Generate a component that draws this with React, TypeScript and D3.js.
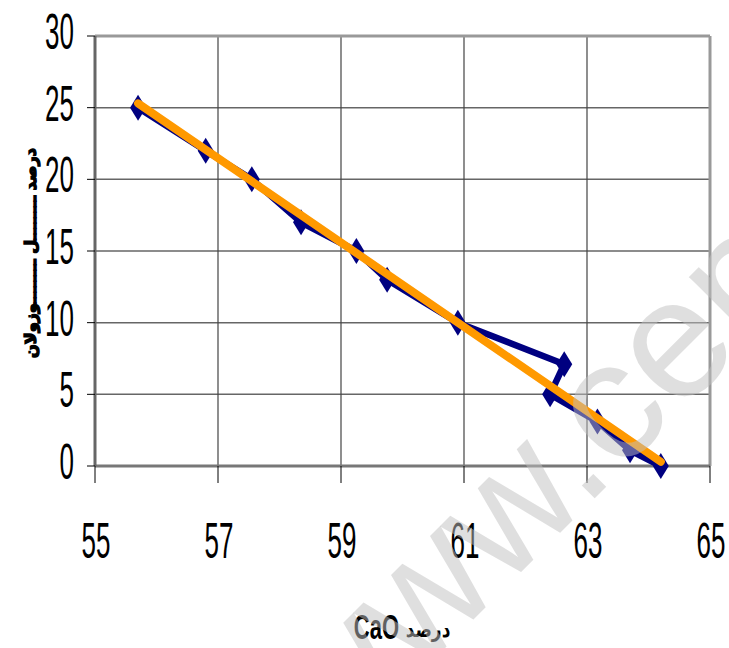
import React from "react";
import * as d3 from "d3";

// values
const cao = [55.7, 56.8, 57.55, 58.35, 59.25, 59.75, 60.9, 62.63, 62.4, 63.17, 63.7, 64.2];
const pozzolan = [25, 22, 20, 17, 15, 13, 10, 7.1, 5, 3.1, 1.1, 0];
const trendX = [55.7, 64.2];
const trendY = [25.3, 0.3];
const xTicks = [55, 57, 59, 61, 63, 65];
const yTicks = [0, 5, 10, 15, 20, 25, 30];

const size = { width: 729, height: 648 };
const margin = { top: 36, right: 19, bottom: 182, left: 95 };

const x = d3.scaleLinear()
  .domain([55, 65])
  .range([margin.left, size.width - margin.right]);

const y = d3.scaleLinear()
  .domain([0, 30])
  .range([size.height - margin.bottom, margin.top]);

const blueLine = d3.line<number>()
  .x((d, i) => x(cao[i]))
  .y((d) => y(d));

const orangeLine = d3.line<number>()
  .x((d, i) => x(trendX[i]))
  .y((d) => y(d));

// diamond marker, taller than wide like the original
const diamond = (cx: number, cy: number) =>
  `M${cx},${cy - 13} L${cx + 8},${cy} L${cx},${cy + 13} L${cx - 8},${cy} Z`;

export default function App() {
  const x0 = x(55), x1 = x(65), y0 = y(0), y1 = y(30);
  return (
    <svg
      width={size.width}
      height={size.height}
      style={{ position: "absolute", left: 0, top: 0, background: "#fff" }}
    >
      {/* grid */}
      {yTicks.filter((t) => t > 0 && t < 30).map((t) => (
        <line key={"h" + t} x1={x0} x2={x1} y1={y(t)} y2={y(t)} stroke="#666" strokeWidth={1.5} />
      ))}
      {xTicks.filter((t) => t > 55 && t < 65).map((t) => (
        <line key={"v" + t} x1={x(t)} x2={x(t)} y1={y1} y2={y0} stroke="#444" strokeWidth={1.2} />
      ))}

      {/* frame */}
      <line x1={x0} x2={x1} y1={y1} y2={y1} stroke="#999" strokeWidth={3} />
      <line x1={x1} x2={x1} y1={y1} y2={y0} stroke="#999" strokeWidth={3} />
      <line x1={x0} x2={x1} y1={y0} y2={y0} stroke="#777" strokeWidth={3} />
      <line x1={x0} x2={x0} y1={y1} y2={y0} stroke="#666" strokeWidth={3} />

      {/* ticks */}
      {yTicks.map((t) => (
        <line key={"yt" + t} x1={x0 - 8} x2={x0} y1={y(t)} y2={y(t)} stroke="#000" strokeWidth={1} />
      ))}
      {xTicks.map((t) => (
        <line key={"xt" + t} x1={x(t)} x2={x(t)} y1={y0} y2={y0 + 17} stroke="#000" strokeWidth={1} />
      ))}

      {/* tick labels */}
      {yTicks.map((t) => (
        <text
          key={"yl" + t}
          transform={`translate(74,${y(t) + 13}) scale(0.52,1)`}
          textAnchor="end"
          fontFamily="Liberation Sans, Arial, sans-serif"
          fontSize={50}
        >
          {t}
        </text>
      ))}
      {xTicks.map((t) => (
        <text
          key={"xl" + t}
          transform={`translate(${x(t) + 1},558) scale(0.52,1)`}
          textAnchor="middle"
          fontFamily="Liberation Sans, Arial, sans-serif"
          fontSize={50}
        >
          {t}
        </text>
      ))}

      {/* data line with markers */}
      <path d={blueLine(pozzolan) || ""} fill="none" stroke="#000080" strokeWidth={6.5} strokeLinejoin="round" />
      {pozzolan.map((v, i) => (
        <path key={"m" + i} d={diamond(x(cao[i]), y(v))} fill="#000080" />
      ))}

      {/* linear trend */}
      <path d={orangeLine(trendY) || ""} fill="none" stroke="#FF9900" strokeWidth={8} strokeLinecap="round" />

      {/* axis titles */}
      <text
        transform="translate(399,639) scale(1,1.6)"
        textAnchor="end"
        fontFamily="Liberation Sans, Arial, sans-serif"
        fontWeight="bold"
        fontSize={22}
      >
        CaO
      </text>
      <text
        transform="translate(428,637) scale(1,1.3)"
        textAnchor="middle"
        fontFamily="DejaVu Sans, sans-serif"
        fontWeight="bold"
        fontSize={17}
      >
        درصد
      </text>
      <text
        transform="translate(36,253) rotate(-90)"
        textAnchor="middle"
        fontFamily="DejaVu Sans, sans-serif"
        fontWeight="bold"
        fontSize={16}
        stroke="#000"
        strokeWidth={1.4}
      >
        درصد ــــــــل ــــــــوزولان
      </text>

      {/* watermark */}
      <text
        transform="translate(330,763) rotate(-45)"
        fontFamily="Liberation Sans, Arial, sans-serif"
        fontSize={170}
        fill="#c0c0c0"
        fillOpacity={0.5}
      >
        www.cem
      </text>
    </svg>
  );
}
